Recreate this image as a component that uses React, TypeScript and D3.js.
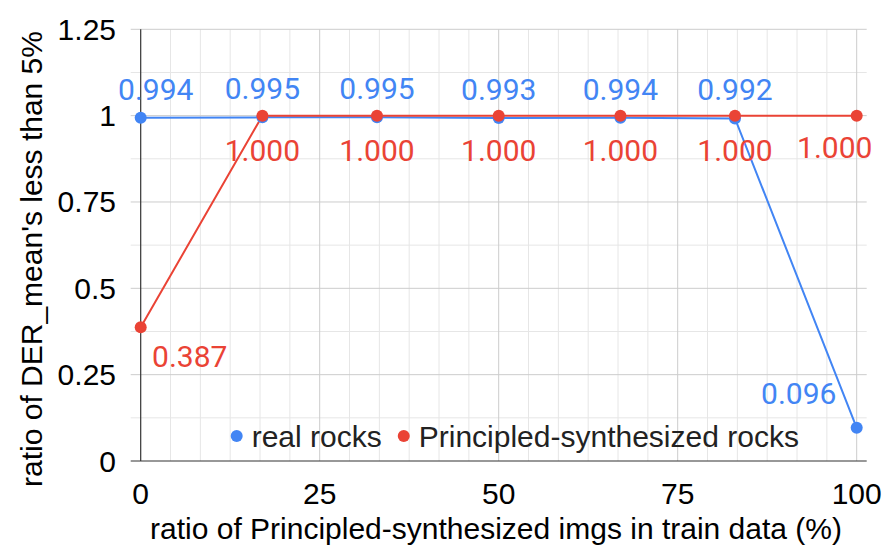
import { useEffect, useRef } from "react";
import * as d3 from "d3";

const xValues = [0, 17, 33, 50, 67, 83, 100];
const realRocks = [0.994, 0.995, 0.995, 0.993, 0.994, 0.992, 0.096];
const synthRocks = [0.387, 1.0, 1.0, 1.0, 1.0, 1.0, 1.0];
const xTicks = [0, 25, 50, 75, 100];
const yTicks = [0, 0.25, 0.5, 0.75, 1, 1.25];
const seriesNames = ["real rocks", "Principled-synthesized rocks"];

const W = 894;
const H = 556;
const BLUE = "#4285F4";
const RED = "#EA4335";
const SANS = "'Liberation Sans', Arial, sans-serif";
const LABEL_FONT = "Roboto, sans-serif";
const FS = "30px";

const App = () => {
	const svgRef = useRef<SVGSVGElement>(null);

	useEffect(() => {
		const svg = d3.select(svgRef.current);
		svg.selectAll("*").remove();

		const x = d3.scaleLinear().domain([0, 100]).range([140.7, 856.7]);
		const y = d3.scaleLinear().domain([0, 1.25]).range([461, 29.3]);
		const [x0, x1] = x.range();
		const [y0, y1] = y.range();

		// minor grid
		const minorX = d3.range(0, 100.001, 100 / 24).filter((v) => Math.abs(v % 25) > 0.01 && Math.abs((v % 25) - 25) > 0.01);
		const minorY = d3.range(0.125, 1.25, 0.25);
		svg.append("g")
			.selectAll("line")
			.data(minorX)
			.join("line")
			.attr("x1", (d) => x(d))
			.attr("x2", (d) => x(d))
			.attr("y1", y1)
			.attr("y2", y0)
			.attr("stroke", "#e6e6e6")
			.attr("stroke-width", 1);
		svg.append("g")
			.selectAll("line")
			.data(minorY)
			.join("line")
			.attr("x1", x0 - 10)
			.attr("x2", x1 + 10)
			.attr("y1", (d) => y(d))
			.attr("y2", (d) => y(d))
			.attr("stroke", "#e6e6e6")
			.attr("stroke-width", 1);

		// major grid
		svg.append("g")
			.selectAll("line")
			.data(xTicks.slice(1))
			.join("line")
			.attr("x1", (d) => x(d))
			.attr("x2", (d) => x(d))
			.attr("y1", y1)
			.attr("y2", y0)
			.attr("stroke", "#cccccc")
			.attr("stroke-width", 1);
		svg.append("g")
			.selectAll("line")
			.data(yTicks.slice(1))
			.join("line")
			.attr("x1", x0 - 10)
			.attr("x2", x1 + 10)
			.attr("y1", (d) => y(d))
			.attr("y2", (d) => y(d))
			.attr("stroke", "#cccccc")
			.attr("stroke-width", 1);

		// axis lines
		svg.append("line")
			.attr("x1", x0).attr("x2", x0)
			.attr("y1", y1).attr("y2", y0)
			.attr("stroke", "#333").attr("stroke-width", 1.2);
		svg.append("line")
			.attr("x1", x0 - 10).attr("x2", x1 + 10)
			.attr("y1", y0).attr("y2", y0)
			.attr("stroke", "#333").attr("stroke-width", 1.2);

		// tick labels
		svg.append("g")
			.selectAll("text")
			.data(yTicks)
			.join("text")
			.attr("x", 116)
			.attr("y", (d) => y(d))
			.attr("dy", "0.35em")
			.attr("text-anchor", "end")
			.style("font-family", SANS)
			.style("font-size", FS)
			.attr("fill", "#000")
			.text((d) => String(d));
		svg.append("g")
			.selectAll("text")
			.data(xTicks)
			.join("text")
			.attr("x", (d) => x(d))
			.attr("y", 504)
			.attr("text-anchor", "middle")
			.style("font-family", SANS)
			.style("font-size", FS)
			.attr("fill", "#000")
			.text((d) => String(d));

		// axis titles
		svg.append("text")
			.attr("x", 496)
			.attr("y", 539)
			.attr("text-anchor", "middle")
			.style("font-family", SANS)
			.style("font-size", FS)
			.attr("fill", "#000")
			.text("ratio of Principled-synthesized imgs in train data (%)");
		svg.append("text")
			.attr("transform", `translate(42,259) rotate(-90)`)
			.attr("text-anchor", "middle")
			.style("font-family", SANS)
			.style("font-size", FS)
			.attr("fill", "#000")
			.text("ratio of DER_mean's less than 5%");

		// lines and points
		const series = [
			{ values: realRocks, color: BLUE },
			{ values: synthRocks, color: RED },
		];
		const line = d3
			.line<number>()
			.x((_, i) => x(xValues[i]))
			.y((d) => y(d));
		series.forEach((s) => {
			svg.append("path")
				.attr("d", line(s.values))
				.attr("fill", "none")
				.attr("stroke", s.color)
				.attr("stroke-width", 2);
		});
		series.forEach((s) => {
			svg.append("g")
				.selectAll("circle")
				.data(s.values)
				.join("circle")
				.attr("cx", (_, i) => x(xValues[i]))
				.attr("cy", (d) => y(d))
				.attr("r", 6)
				.attr("fill", s.color);
		});

		// data labels
		const halfW = 37;
		const clampX = (cx: number) => Math.max(x0 - 22 + halfW, Math.min(x1 + 15 - halfW, cx));
		const labels = svg.append("g")
			.style("font-family", LABEL_FONT)
			.style("font-size", FS)
			.attr("text-anchor", "middle");
		realRocks.forEach((v, i) => {
			const px = x(xValues[i]);
			const py = y(v);
			const falling = i > 0 && v < realRocks[i - 1] - 0.2;
			labels.append("text")
				.attr("x", falling ? px - 58 : clampX(px))
				.attr("y", falling ? py - 24 : py - 18)
				.attr("fill", BLUE)
				.text(v.toFixed(3));
		});
		synthRocks.forEach((v, i) => {
			const px = x(xValues[i]);
			const py = y(v);
			const rising = i < synthRocks.length - 1 && v < synthRocks[i + 1] - 0.2;
			const last = i === synthRocks.length - 1;
			labels.append("text")
				.attr("x", rising ? px + 49 : clampX(px))
				.attr("y", rising ? py + 40 : last ? py + 42 : py + 45)
				.attr("fill", RED)
				.text(v.toFixed(3));
		});

		// legend
		const legend = svg.append("g").attr("transform", `translate(236.7,436)`);
		let offset = 0;
		seriesNames.forEach((name, i) => {
			const g = legend.append("g").attr("transform", `translate(${offset},0)`);
			g.append("circle").attr("r", 6).attr("fill", i === 0 ? BLUE : RED);
			const t = g.append("text")
				.attr("x", 15)
				.attr("dy", "0.35em")
				.style("font-family", SANS)
				.style("font-size", FS)
				.attr("fill", "#222")
				.text(name);
			const w = (t.node() as SVGTextElement).getComputedTextLength();
			offset += 15 + w + 22;
		});
	}, []);

	return (
		<svg
			ref={svgRef}
			width={W}
			height={H}
			viewBox={`0 0 ${W} ${H}`}
			style={{ position: "fixed", left: 0, top: 0, background: "#fff" }}
		/>
	);
};

export default App;
